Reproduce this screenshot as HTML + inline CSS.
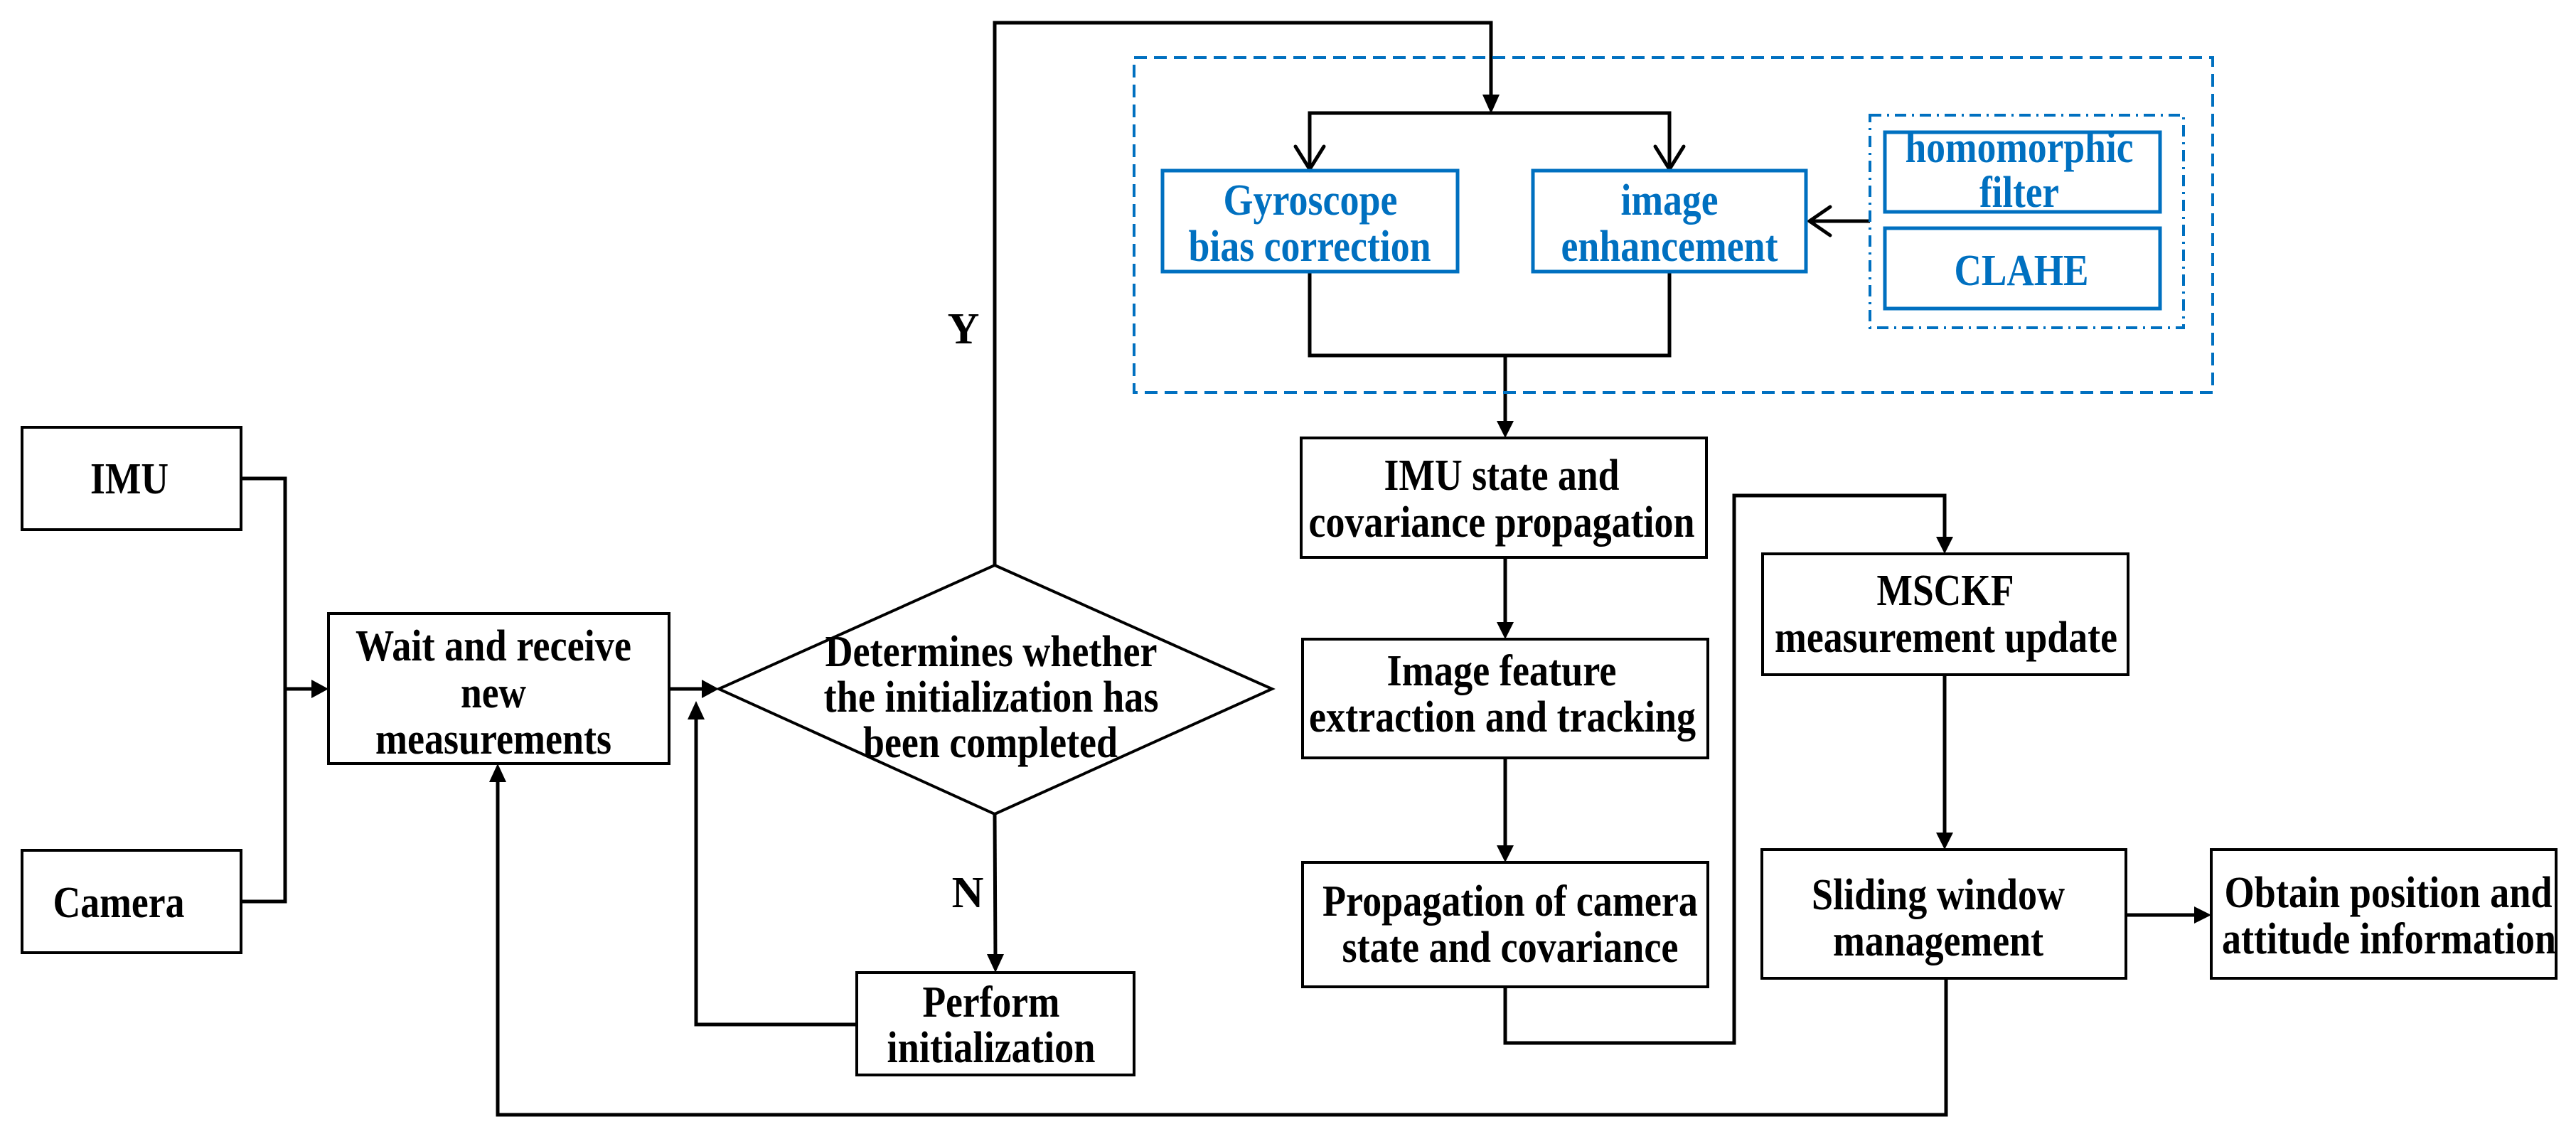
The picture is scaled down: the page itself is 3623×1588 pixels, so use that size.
<!DOCTYPE html>
<html><head><meta charset="utf-8"><style>
html,body{margin:0;padding:0;background:#fff;}
svg{display:block;}
text{font-family:"Liberation Serif",serif;font-weight:bold;font-size:62px;text-anchor:middle;dominant-baseline:central;}
.b{fill:#0070C0;}
</style></head><body>
<svg width="3623" height="1588" viewBox="0 0 3623 1588" xmlns="http://www.w3.org/2000/svg">
<g fill="none" stroke="#000" stroke-width="5">
<rect x="31" y="601" width="308" height="144" stroke-width="4"/>
<rect x="31" y="1196" width="308" height="144" stroke-width="4"/>
<rect x="462" y="863" width="479" height="211" stroke-width="4"/>
<polygon points="1011,969 1399,795 1789,969 1399,1145" stroke-width="4"/>
<rect x="1205" y="1368" width="390" height="144" stroke-width="4"/>
<rect x="1830" y="616" width="570" height="168" stroke-width="4"/>
<rect x="1832" y="899" width="570" height="167" stroke-width="4"/>
<rect x="1832" y="1213" width="570" height="175" stroke-width="4"/>
<rect x="2479" y="779" width="514" height="170" stroke-width="4"/>
<rect x="2478" y="1195" width="512" height="181" stroke-width="4"/>
<rect x="3110" y="1195" width="485" height="181" stroke-width="4"/>
<polyline points="339,673 401,673 401,1268 339,1268"/>
<line x1="401" y1="969" x2="445" y2="969"/>
<line x1="941" y1="969" x2="994" y2="969"/>
<polyline points="1399,795 1399,32 2097,32 2097,140"/>
<line x1="1399" y1="1145" x2="1400" y2="1350"/>
<polyline points="1205,1441 979,1441 979,1005"/>
<polyline points="2737,1376 2737,1568 700,1568 700,1092"/>
<polyline points="1842,235 1842,159 2348,159 2348,235"/>
<polyline points="1842,382 1842,500 2348,500 2348,382"/>
<line x1="2117" y1="500" x2="2117" y2="598"/>
<line x1="2630" y1="311" x2="2545" y2="311"/>
<line x1="2117" y1="784" x2="2117" y2="881"/>
<line x1="2117" y1="1066" x2="2117" y2="1195"/>
<polyline points="2117,1388 2117,1467 2439,1467 2439,697 2735,697 2735,761"/>
<line x1="2735" y1="949" x2="2735" y2="1177"/>
<line x1="2990" y1="1287" x2="3092" y2="1287"/>
<polyline points="1822,206 1842,238 1862,206" stroke-linecap="round"/>
<polyline points="2328,206 2348,238 2368,206" stroke-linecap="round"/>
<polyline points="2574,291 2545,311 2574,331" stroke-linecap="round"/>
</g>
<g fill="#000">
<polygon points="438,956 462,969 438,982"/>
<polygon points="987,956 1011,969 987,982"/>
<polygon points="2085,133 2097,160 2109,133"/>
<polygon points="1388,1342 1400,1368 1412,1342"/>
<polygon points="967,1012 979,986 991,1012"/>
<polygon points="688,1100 700,1074 712,1100"/>
<polygon points="2105,592 2117,616 2129,592"/>
<polygon points="2105,875 2117,899 2129,875"/>
<polygon points="2105,1189 2117,1213 2129,1189"/>
<polygon points="2723,755 2735,779 2747,755"/>
<polygon points="2723,1171 2735,1195 2747,1171"/>
<polygon points="3086,1275 3110,1287 3086,1299"/>
</g>
<g fill="none" stroke="#0070C0" stroke-width="4">
<rect x="1595" y="81" width="1517" height="471" stroke-dasharray="18,10"/>
<rect x="2630" y="162" width="441" height="299" stroke-dasharray="16,8,3,8"/>
<rect x="1635" y="240" width="415" height="142" stroke-width="5"/>
<rect x="2156" y="240" width="384" height="142" stroke-width="5"/>
<rect x="2651" y="186" width="387" height="112" stroke-width="5"/>
<rect x="2651" y="321" width="387" height="113" stroke-width="5"/>
</g>
<text x="182" y="674" textLength="110" lengthAdjust="spacingAndGlyphs">IMU</text>
<text x="167" y="1270" textLength="185" lengthAdjust="spacingAndGlyphs">Camera</text>
<text x="694" y="909" textLength="388" lengthAdjust="spacingAndGlyphs">Wait and receive</text>
<text x="694" y="975" textLength="92" lengthAdjust="spacingAndGlyphs">new</text>
<text x="694" y="1040" textLength="332" lengthAdjust="spacingAndGlyphs">measurements</text>
<text x="1394" y="917" textLength="467" lengthAdjust="spacingAndGlyphs">Determines whether</text>
<text x="1394" y="981" textLength="471" lengthAdjust="spacingAndGlyphs">the initialization has</text>
<text x="1393" y="1045" textLength="358" lengthAdjust="spacingAndGlyphs">been completed</text>
<text x="1394" y="1410" textLength="193" lengthAdjust="spacingAndGlyphs">Perform</text>
<text x="1394" y="1474" textLength="293" lengthAdjust="spacingAndGlyphs">initialization</text>
<text x="1355" y="463">Y</text>
<text x="1361" y="1256">N</text>
<text class="b" x="1843" y="282" textLength="245" lengthAdjust="spacingAndGlyphs">Gyroscope</text>
<text class="b" x="1842" y="347" textLength="341" lengthAdjust="spacingAndGlyphs">bias correction</text>
<text class="b" x="2348" y="282" textLength="137" lengthAdjust="spacingAndGlyphs">image</text>
<text class="b" x="2348" y="347" textLength="305" lengthAdjust="spacingAndGlyphs">enhancement</text>
<text class="b" x="2840" y="208" textLength="321" lengthAdjust="spacingAndGlyphs">homomorphic</text>
<text class="b" x="2840" y="271" textLength="112" lengthAdjust="spacingAndGlyphs">filter</text>
<text class="b" x="2843" y="381" textLength="189" lengthAdjust="spacingAndGlyphs">CLAHE</text>
<text x="2112" y="669" textLength="331" lengthAdjust="spacingAndGlyphs">IMU state and</text>
<text x="2112" y="735" textLength="543" lengthAdjust="spacingAndGlyphs">covariance propagation</text>
<text x="2112" y="944" textLength="323" lengthAdjust="spacingAndGlyphs">Image feature</text>
<text x="2113" y="1009" textLength="544" lengthAdjust="spacingAndGlyphs">extraction and tracking</text>
<text x="2124" y="1268" textLength="528" lengthAdjust="spacingAndGlyphs">Propagation of camera</text>
<text x="2124" y="1333" textLength="473" lengthAdjust="spacingAndGlyphs">state and covariance</text>
<text x="2736" y="831" textLength="193" lengthAdjust="spacingAndGlyphs">MSCKF</text>
<text x="2737" y="897" textLength="482" lengthAdjust="spacingAndGlyphs">measurement update</text>
<text x="2726" y="1259" textLength="356" lengthAdjust="spacingAndGlyphs">Sliding window</text>
<text x="2726" y="1324" textLength="296" lengthAdjust="spacingAndGlyphs">management</text>
<text x="3359" y="1256" textLength="461" lengthAdjust="spacingAndGlyphs">Obtain position and</text>
<text x="3360" y="1321" textLength="470" lengthAdjust="spacingAndGlyphs">attitude information</text>
</svg>
</body></html>
